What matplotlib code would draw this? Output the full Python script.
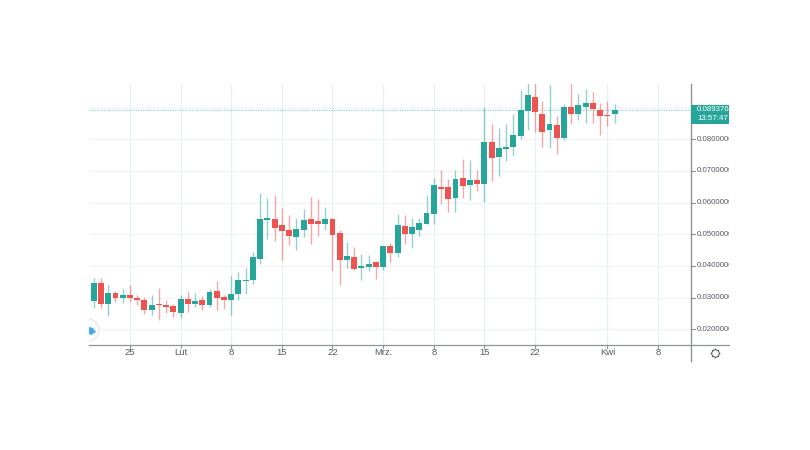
import matplotlib
matplotlib.use("Agg")
import numpy as np
import matplotlib.pyplot as plt
from matplotlib.patches import Circle, Polygon, Rectangle

# Daily candles, 20 Jan - 2 Apr
opens = [.02905, .03453, .0279, .03137, .0300, .03074, .0299, .02937, .0260, .0280, .0278, .0272,
         .0251, .0295, .0280, .0293, .0277, .0320, .0301, .0291, .0311, .0351, .0355, .0422, .0546, .0549, .0528,
         .0513, .0491, .0514, .0547, .0541, .0531, .0547, .0505, .0420, .0428, .0393, .0397, .0411,
         .0397, .0464, .0440, .0526, .0501, .0515, .0534, .0564, .0649, .0648, .0615, .0677, .0657, .0673, .0660,
         .0790, .0743, .0770, .0776, .0810, .0890, .0934, .0880, .0829, .0845, .0804, .0902, .0879, .0901, .0914, .0892,
         .0876, .0879]
closes = [.03453, .0280, .03137, .0300, .0309, .0299, .0291, .0262, .0278, .0276, .0271, .0255,
          .0295, .0279, .0289, .0277, .0317, .0300, .0291, .0312, .0356, .0356, .0429, .0547, .0553, .0520, .0511,
          .0496, .0517, .0544, .0531, .0534, .0547, .0498, .0420, .0430, .0391, .0399, .0405, .0397,
          .0464, .0440, .0529, .0501, .0523, .0535, .0568, .0655, .0642, .0613, .0675, .0651, .0673, .0660, .0790,
          .0742, .0772, .0777, .0812, .0894, .0939, .0885, .0822, .0847, .0804, .0902, .0879, .0908, .0914, .0896, .0873,
          .0872, .0892]
highs = [.0361, .0363, .0340, .0322, .0327, .0340, .0308, .0303, .0307, .0331, .0291, .0280,
         .0308, .0321, .0314, .0305, .0326, .0353, .0308, .0368, .0380, .0393, .0443, .0630, .0614, .0623, .0582,
         .0562, .0553, .0579, .0618, .0611, .0585, .0552, .0512, .0476, .0460, .0437, .0436, .0415,
         .0464, .0473, .0565, .0561, .0550, .0552, .0625, .0677, .0704, .0676, .0704, .0738, .0735, .0704, .0903,
         .0847, .0837, .0847, .0879, .0957, .0990, .0990, .0920, .0972, .0873, .0913, .0990, .0944, .0960, .0948, .0915,
         .0921, .0913]
lows = [.02663, .02684, .0243, .0287, .0284, .0286, .0277, .0248, .0244, .0228, .0253, .0240,
        .0235, .0256, .0269, .0261, .0269, .0261, .0264, .0246, .0291, .0311, .0342, .0406, .0484, .0480, .0418,
        .0466, .0450, .0492, .0470, .0496, .0515, .0388, .0339, .0395, .0388, .0357, .0385, .0360,
        .0386, .0414, .0427, .0468, .0458, .0494, .0531, .0531, .0595, .0571, .0570, .0615, .0609, .0636, .0603,
        .0669, .0685, .0732, .0746, .0802, .0829, .0824, .0777, .0772, .0753, .0798, .0848, .0861, .0853, .0852, .0814,
        .0843, .0851]

tick_days = [5, 12, 19, 26, 33, 40, 47, 54, 61, 71, 78]
tick_names = ["25", "Lut", "8", "15", "22", "Mrz.", "8", "15", "22", "Kwi", "8"]
price_ticks = [.02, .03, .04, .05, .06, .07, .08, .09]
price_names = ["0.0200000", "0.0300000", "0.0400000", "0.0500000", "0.0600000", "0.0700000", "0.0800000"]
last_price = 0.0893766
last_name = "0.0893766"
countdown = "13:57:47"

UP = "#26a69a"
DOWN = "#ef5350"
GRID_H = "#f0f3f7"
GRID_V = "#e7f0f5"
AXIS = "#8f939c"
TEXT = "#555a66"

plt.rcParams["font.family"] = ["Liberation Sans", "DejaVu Sans"]

fig = plt.figure(figsize=(8.1, 4.5), dpi=100, facecolor="white")
W, H = 810.0, 450.0


def pixel_axes(x0, y0, x1, y1, zorder):
    # axes whose data coordinates are the pixels of the picture
    a = fig.add_axes([x0 / W, 1 - y1 / H, (x1 - x0) / W, (y1 - y0) / H], zorder=zorder)
    a.set_xlim(x0, x1)
    a.set_ylim(y1, y0)
    a.axis("off")
    a.patch.set_alpha(0)
    return a


# Main pane
ax = fig.add_axes([89 / W, 1 - 345 / H, 602 / W, 261 / H], zorder=1)
ax.set_xlim(-0.66, 82.56)
ax.set_ylim(0.01504, 0.09746)
for s in ax.spines.values():
    s.set_visible(False)
ax.set_xticks(tick_days)
ax.set_yticks(price_ticks)
ax.tick_params(length=0, labelbottom=False, labelleft=False)
ax.xaxis.grid(True, color=GRID_V, lw=1)
ax.yaxis.grid(True, color=GRID_H, lw=1)
ax.set_axisbelow(True)

days = np.arange(len(opens))
o = np.array(opens)
c = np.array(closes)
colors = [UP if b >= a else DOWN for a, b in zip(o, c)]
ax.vlines(days, lows, highs, colors=colors, lw=1.0, alpha=0.5, zorder=2)
ax.bar(days, np.abs(c - o), bottom=np.minimum(o, c), width=0.82, color=colors, zorder=3)
ax.axhline(last_price, color=UP, lw=0.8, ls=(0, (1, 1.2)), alpha=0.55, zorder=2)

# Logo in the bottom left corner, cut by the pane edge
pane = pixel_axes(89, 84, 691, 345, 4)
pane.add_patch(Circle((88, 330), 11, fc="white", ec="#e9ebee", lw=1))
pane.add_patch(Polygon([[89, 327], [93, 328], [96, 332], [91, 335], [89, 334]], fc="#4aa8f0", ec="none"))

# Frame lines, axis ticks, gear
ov = pixel_axes(0, 0, W, H, 3)
ov.plot([691, 691], [84, 361], color=AXIS, lw=1.0)
ov.plot([89, 729], [345, 345], color=AXIS, lw=0.9)

ov.plot([715], [353], marker=(8, 1, 0), ms=8, mfc="#4a4f5a", mec="none", ls="none")
ov.plot([715], [353], marker="o", ms=5.4, mfc="white", mec="#4a4f5a", mew=0.7, ls="none")

for d, name in zip(tick_days, tick_names):
    x = ax.transData.transform((d, 0))[0]
    ov.plot([x, x], [345, 348], color=AXIS, lw=0.8)
    ov.text(x, 352.5, name, ha="center", va="center", fontsize=6.8, color=TEXT)

# Right scale, labels are cut at its edge
scale = pixel_axes(691, 84, 729, 361, 5)


def price_y(p):
    return H - ax.transData.transform((0, p))[1]


for p, name in zip(price_ticks, price_names):
    y = price_y(p)
    scale.plot([691, 695], [y, y], color=AXIS, lw=0.8)
    scale.text(697, y, name, ha="left", va="center", fontsize=5.7, color=TEXT, clip_on=True)

scale.add_patch(Rectangle((691, 105), 38, 19, fc=UP, ec="none"))
scale.text(697, price_y(last_price), last_name, ha="left", va="center", fontsize=5.7,
           color="white", clip_on=True)
scale.text(697, 119, countdown, ha="left", va="center", fontsize=5.7, color="white", clip_on=True)

fig.savefig("out.png", dpi=100, facecolor="white")
